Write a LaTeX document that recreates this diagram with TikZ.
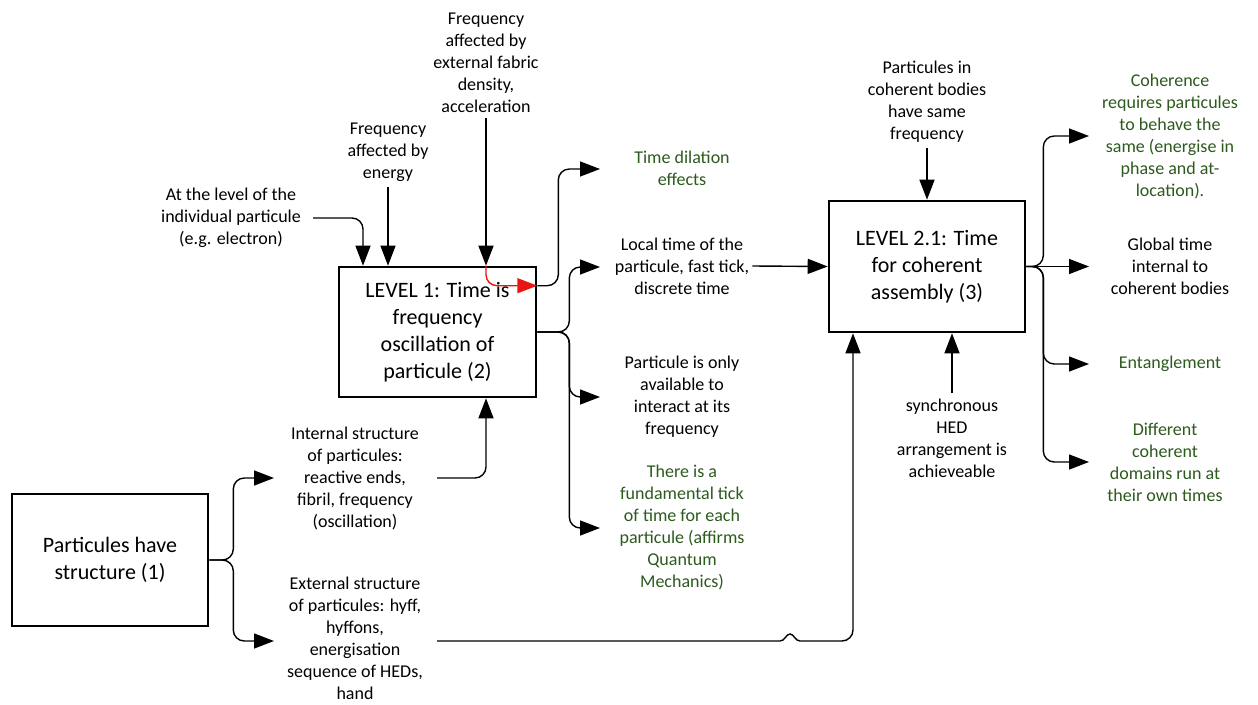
\documentclass[tikz,border=0pt]{standalone}
\usepackage{fontspec}
\setmainfont{Carlito}
\usetikzlibrary{arrows.meta}
\definecolor{dgreen}{RGB}{45,90,30}
\definecolor{rline}{RGB}{235,20,20}
\tikzset{
  lbl/.style={align=center, inner sep=1pt, font=\fontsize{18}{22}\selectfont},
  glbl/.style={lbl, text=dgreen},
  bigbox/.style={draw, line width=2.6pt, align=center, inner sep=0pt, font=\fontsize{22}{27}\selectfont},
  plain/.style={line width=1.4pt},
  conn/.style={plain, rounded corners=11pt},
  arr/.style={conn, -{Triangle[length=20pt,width=15pt]}},
}
\begin{document}
\begin{tikzpicture}[x=1pt,y=-1pt]
\useasboundingbox (0,0) rectangle (1258,704);
\fill[white] (0,0) rectangle (1258,704);

% boxes
\node[bigbox, minimum width=196pt, minimum height=132pt] (p1) at (110,560) {Particules have\\structure (1)};
\node[bigbox, minimum width=197pt, minimum height=130pt] (p2) at (437.5,332) {LEVEL 1: Time is\\frequency\\oscillation of\\particule (2)};
\node[bigbox, minimum width=196pt, minimum height=131pt] (p3) at (927,266.5) {LEVEL 2.1: Time\\for coherent\\assembly (3)};

% text labels
\node[lbl] (tlvl) at (231,218) {At the level of the\\individual particule\\(e.g. electron)};
\node[lbl] (ten) at (388,152) {Frequency\\affected by\\energy};
\node[lbl] (tfab) at (486,63) {Frequency\\affected by\\external fabric\\density,\\acceleration};
\node[lbl] (tint) at (355,478) {Internal structure\\of particules:\\reactive ends,\\fibril, frequency\\(oscillation)};
\node[lbl] (text) at (355,638) {External structure\\of particules: hyff,\\hyffons,\\energisation\\sequence of HEDs,\\hand};
\node[glbl] (tdil) at (682,168) {Time dilation\\effects};
\node[lbl] (tloc) at (682,266) {Local time of the\\particule, fast tick,\\discrete time};
\node[lbl] (tonly) at (682,397) {Particule is only\\available to\\interact at its\\frequency};
\node[glbl] (ttick) at (682,527) {There is a\\fundamental tick\\of time for each\\particule (affirms\\Quantum\\Mechanics)};
\node[lbl] (tsame) at (927,102) {Particules in\\coherent bodies\\have same\\frequency};
\node[lbl] (tsync) at (952,438) {synchronous\\HED\\arrangement is\\achieveable};
\node[glbl] (tcoh) at (1170,136) {Coherence\\requires particules\\to behave the\\same (energise in\\phase and at-\\location).};
\node[lbl] (tglob) at (1170,266) {Global time\\internal to\\coherent bodies};
\node[glbl] (tent) at (1170,364) {Entanglement};
\node[glbl] (tdiff) at (1165,462) {Different\\coherent\\domains run at\\their own times};

% named connector ends
\coordinate (intin) at (274,478);
\coordinate (extin) at (274,641);
\coordinate (intout) at (437,478);
\coordinate (extout) at (437,641);
\coordinate (lvlout) at (313,218);
\coordinate (dilin) at (600,169);
\coordinate (locin) at (600,267);
\coordinate (onlyin) at (600,397);
\coordinate (tickin) at (600,528);
\coordinate (cohin) at (1089,136);
\coordinate (globin) at (1089,266.5);
\coordinate (entin) at (1089,364);
\coordinate (diffin) at (1089,462);
\coordinate (hopa) at (780,641);
\coordinate (hopb) at (800,641);

% box 1 fork
\draw[arr] (p1.east) -- ++(24,0) |- (intin);
\draw[arr] (p1.east) -- ++(24,0) |- (extin);

% inputs to box 2
\draw[arr] (intout) -| ([xshift=48.5pt]p2.south);
\draw[arr] (lvlout) -| ([xshift=-74.5pt]p2.north);
\draw[arr] ([yshift=-4pt]ten.south) -- (ten.south |- p2.north);
\draw[arr] ([yshift=-4pt]tfab.south) -- (tfab.south |- p2.north);
\draw[arr, color=rline] (tfab.south |- p2.north) |- ([yshift=-20pt]p2.north east);

% outputs of box 2
\draw[arr] ([yshift=-20pt]p2.north east) -- ++(21,0) |- (dilin);
\draw[arr] (p2.east) -- ++(32,0) |- (locin);
\draw[arr] (p2.east) -- ++(32,0) |- (onlyin);
\draw[arr] (p2.east) -- ++(32,0) |- (tickin);

% into box 3
\draw[arr] ([xshift=2pt]tloc.east) -- (p3.west);
\draw[arr] ([yshift=-4pt]tsame.south) -- (p3.north);
\draw[arr] ([yshift=4pt]tsync.north) -- ([xshift=25pt]p3.south);
\draw[plain] (extout) -- (hopa) .. controls (785,641) and (786,634) .. (790,634)
  .. controls (794,634) and (795,641) .. (hopb);
\draw[arr] (hopb) -| ([xshift=-74pt]p3.south);

% box 3 fork
\draw[arr] (p3.east) -- ++(17,0) |- (cohin);
\draw[arr] (p3.east) -- (globin);
\draw[arr] (p3.east) -- ++(17,0) |- (entin);
\draw[arr] (p3.east) -- ++(17,0) |- (diffin);
\end{tikzpicture}
\end{document}
